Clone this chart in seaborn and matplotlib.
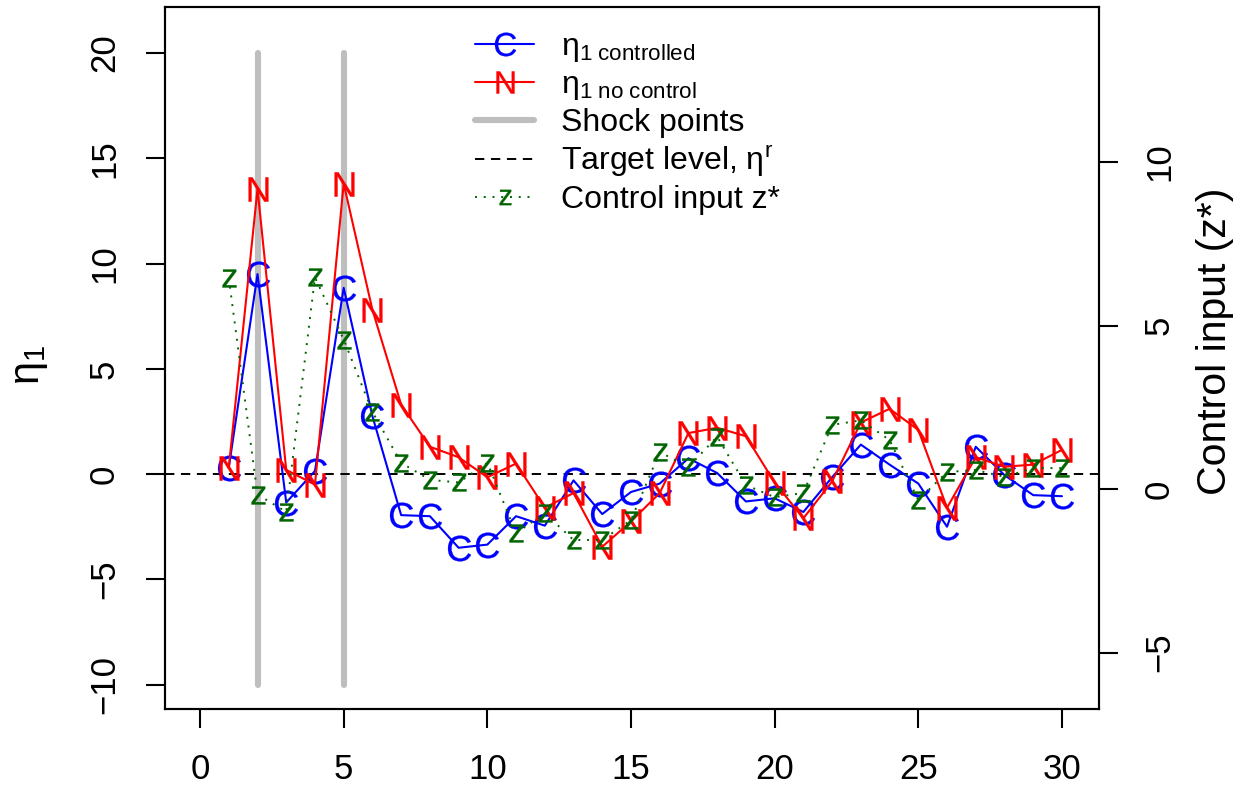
import numpy as np
import pandas as pd
import matplotlib
matplotlib.use("Agg")
import matplotlib.pyplot as plt
from matplotlib.lines import Line2D
import seaborn as sns

# ---- data ----
time = list(range(1, 31))
eta_controlled = [0.3, 9.5, -1.35, 0.15, 8.85, 2.75, -1.95, -2.0, -3.5, -3.35,
                  -2.0, -2.45, -0.3, -1.9, -0.85, -0.45, 0.75, 0.05, -1.3, -1.15,
                  -1.8, -0.15, 1.4, 0.45, -0.45, -2.5, 1.3, -0.05, -1.0, -1.05]
eta_nocontrol = [0.3, 13.55, 0.2, -0.5, 13.8, 7.8, 3.3, 1.3, 0.8, -0.15,
                 0.5, -1.6, -0.9, -3.45, -2.25, -0.9, 1.95, 2.2, 1.8, -0.4,
                 -2.1, -0.35, 2.45, 3.1, 2.1, -1.6, 0.8, 0.35, 0.45, 1.15]
control_z = [6.45, -0.17, -0.7, 6.47, 4.57, 2.36, 0.8, 0.28, 0.2, 0.8,
             -1.35, -0.74, -1.56, -1.56, -0.95, 1.13, 0.67, 1.6, 0.12, -0.25,
             -0.12, 1.96, 2.1, 1.5, -0.34, 0.52, 0.58, 0.37, 0.64, 0.64]
shock_times = [2, 5]
shock_range = [-10, 20]
target_level = 0

x_ticks = [0, 5, 10, 15, 20, 25, 30]
y_ticks = [-10, -5, 0, 5, 10, 15, 20]
z_ticks = [-5, 0, 5, 10]

sns.set_style("ticks")
plt.rcParams["font.family"] = ["Liberation Sans", "DejaVu Sans"]
plt.rcParams["mathtext.fontset"] = "custom"
plt.rcParams["mathtext.rm"] = "Liberation Sans"
plt.rcParams["mathtext.it"] = "Liberation Sans:italic"
plt.rcParams["mathtext.bf"] = "Liberation Sans:bold"
plt.rcParams["axes.linewidth"] = 1.5
plt.rcParams["axes.edgecolor"] = "black"
plt.rcParams["axes.unicode_minus"] = True
for k in ("text.color", "axes.labelcolor", "xtick.color", "ytick.color",
          "xtick.labelcolor", "ytick.labelcolor"):
    plt.rcParams[k] = "black"

W, H = 1248, 788
fig = plt.figure(figsize=(W / 100, H / 100), dpi=100)
L, R, T, B = 165, 1099, 7, 709
ax = fig.add_axes([L / W, 1 - B / H, (R - L) / W, (B - T) / H])

df = pd.DataFrame({"t": time, "c": eta_controlled, "n": eta_nocontrol, "z": control_z})

BLUE, RED, GREEN, GREY = "#0000FF", "#FF0000", "#006400", "#BEBEBE"

# shock points
for s in shock_times:
    ax.plot([s, s], shock_range, color=GREY, lw=4.4, solid_capstyle="round", zorder=1)

# target level
ax.axhline(target_level, color="black", lw=1.4, dashes=(4.8, 3.4), zorder=2)

sns.lineplot(data=df, x="t", y="c", ax=ax, color=BLUE, lw=1.5, marker=r"$\mathrm{C}$",
             markersize=18.5, markeredgecolor=BLUE, markerfacecolor=BLUE, markeredgewidth=0.2,
             zorder=3)
sns.lineplot(data=df, x="t", y="n", ax=ax, color=RED, lw=1.5, marker=r"$\mathrm{N}$",
             markersize=17.5, markeredgecolor=RED, markerfacecolor=RED, markeredgewidth=0.2,
             zorder=4)

ax.set_xlim(-1.22, 31.29)
ax.set_ylim(-11.16, 22.19)
ax.set_xticks(x_ticks)
ax.set_yticks(y_ticks)
ax.set_xlabel("")
ax.set_ylabel(r"η$_1$", fontsize=30)
ax.yaxis.label.set_va("center")
ax.yaxis.set_label_coords((30 - L) / (R - L), (B - 365) / (B - T))
ax.tick_params(axis="both", length=13.7, width=1.5, pad=18, labelsize=25, color="black")
for lab in ax.get_yticklabels():
    lab.set_rotation(90)
    lab.set_va("center")

# control input on right axis
ax2 = ax.twinx()
sns.lineplot(data=df, x="t", y="z", ax=ax2, color=GREEN, lw=1.4, dashes=False,
             marker=r"$\mathrm{z}$", markersize=13, markeredgecolor=GREEN,
             markerfacecolor=GREEN, markeredgewidth=0.2, zorder=5)
ax2.lines[-1].set_dashes((1, 3.5))
ax2.set_ylim((489 - B) / 32.7, (489 - T) / 32.7)
ax2.set_yticks(z_ticks)
ax2.set_ylabel("Control input (z*)", fontsize=29.5)
ax2.yaxis.label.set_va("center")
ax2.yaxis.set_label_coords((1215 - L) / (R - L), (B - 341) / (B - T))
ax2.tick_params(axis="y", length=13.7, width=1.5, pad=18, labelsize=25, color="black")
for lab in ax2.get_yticklabels():
    lab.set_rotation(90)
    lab.set_va("center")
ax2.set_xlim(-1.22, 31.29)

for a in (ax, ax2):
    for sp in a.spines.values():
        sp.set_visible(True)
        sp.set_linewidth(1.5)
        sp.set_color("black")

handles = [
    Line2D([], [], color=BLUE, lw=1.5, marker=r"$\mathrm{C}$", markersize=17, mec=BLUE, mfc=BLUE, mew=0.2),
    Line2D([], [], color=RED, lw=1.5, marker=r"$\mathrm{N}$", markersize=16, mec=RED, mfc=RED, mew=0.2),
    Line2D([], [], color=GREY, lw=4.4, solid_capstyle="round"),
    Line2D([], [], color="black", lw=1.4, dashes=(4.8, 3.4)),
    Line2D([], [], color=GREEN, lw=1.4, dashes=(1, 3.5), marker=r"$\mathrm{z}$", markersize=11, mec=GREEN, mfc=GREEN, mew=0.2),
]
labels = [r"η$_{1\ \mathrm{controlled}}$", r"η$_{1\ \mathrm{no\ control}}$", "Shock points",
          r"Target level, η$^{\mathrm{r}}$", "Control input z*"]
ax2.legend(handles, labels, loc="upper left", bbox_to_anchor=((475 - L) / (R - L), (B - 32) / (B - T)),
           frameon=False, fontsize=23, handlelength=1.85, handletextpad=0.85,
           labelspacing=0.19, borderpad=0, borderaxespad=0)

fig.savefig("out.png", dpi=100)
